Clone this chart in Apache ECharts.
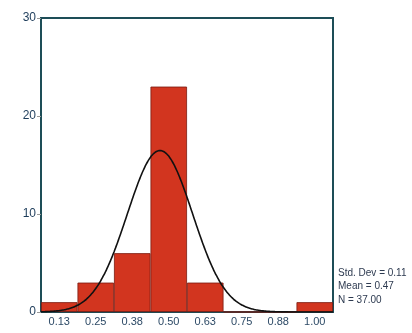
<!DOCTYPE html>
<html>
<head>
<meta charset="utf-8">
<script src="https://cdn.jsdelivr.net/npm/echarts@6/dist/echarts.min.js"></script>
<style>
html,body{margin:0;padding:0;background:#fff;}
#main{width:412px;height:333px;}
</style>
</head>
<body>
<div id="main"></div>
<script>
// histogram bins
var binLabels = ['0.13', '0.25', '0.38', '0.50', '0.63', '0.75', '0.88', '1.00'];
var binCenters = [0.125, 0.25, 0.375, 0.5, 0.625, 0.75, 0.875, 1.0];
var counts = [1, 3, 6, 23, 3, 0, 0, 1];
// fitted normal curve parameters
var stdDev = 0.112;
var mean = 0.47;
var nTotal = 37;
var binWidth = 0.125;

var myChart = echarts.init(document.getElementById('main'));

// normal density scaled to counts
var curve = [];
for (var x = 0.0625; x <= 1.0626; x += 0.005) {
	var z = (x - mean) / stdDev;
	var y = nTotal * binWidth / (stdDev * Math.sqrt(2 * Math.PI)) * Math.exp(-0.5 * z * z);
	curve.push([x, y]);
}

var frame = '#1d4d57';
var option = {
	animation: false,
	grid: {left: 41, right: 79, top: 18, bottom: 21, show: true, borderColor: frame, borderWidth: 2},
	xAxis: [
		{
			type: 'category',
			data: binLabels,
			axisLine: {lineStyle: {color: frame, width: 2}},
			axisTick: {show: false},
			axisLabel: {color: '#2d4a66', fontSize: 11, margin: 4, fontFamily: 'Liberation Sans'}
		},
		{
			type: 'value',
			min: binCenters[0] - binWidth / 2,
			max: binCenters[binCenters.length - 1] + binWidth / 2,
			show: false
		}
	],
	yAxis: {
		type: 'value',
		min: 0,
		max: 30,
		interval: 10,
		axisLine: {show: true, lineStyle: {color: frame, width: 2}},
		axisTick: {show: true, length: 4, lineStyle: {color: '#999'}},
		splitLine: {show: false},
		axisLabel: {color: '#1d3c5a', fontSize: 12, margin: 5, fontFamily: 'Liberation Sans'}
	},
	series: [
		{
			type: 'bar',
			data: counts,
			barCategoryGap: 0,
			itemStyle: {color: '#d2351f', borderColor: '#7a1a10', borderWidth: 0.8}
		},
		{
			type: 'line',
			xAxisIndex: 1,
			data: curve,
			symbol: 'none',
			smooth: true,
			lineStyle: {color: '#111', width: 1.6}
		}
	],
	graphic: [
		{
			type: 'text',
			left: 338,
			top: 266,
			style: {
				text: 'Std. Dev = 0.11\nMean = 0.47\nN = 37.00',
				fill: '#2d3a50',
				font: '10px "Liberation Sans"',
				lineHeight: 13.5
			}
		}
	]
};
myChart.setOption(option);
</script>
</body>
</html>
